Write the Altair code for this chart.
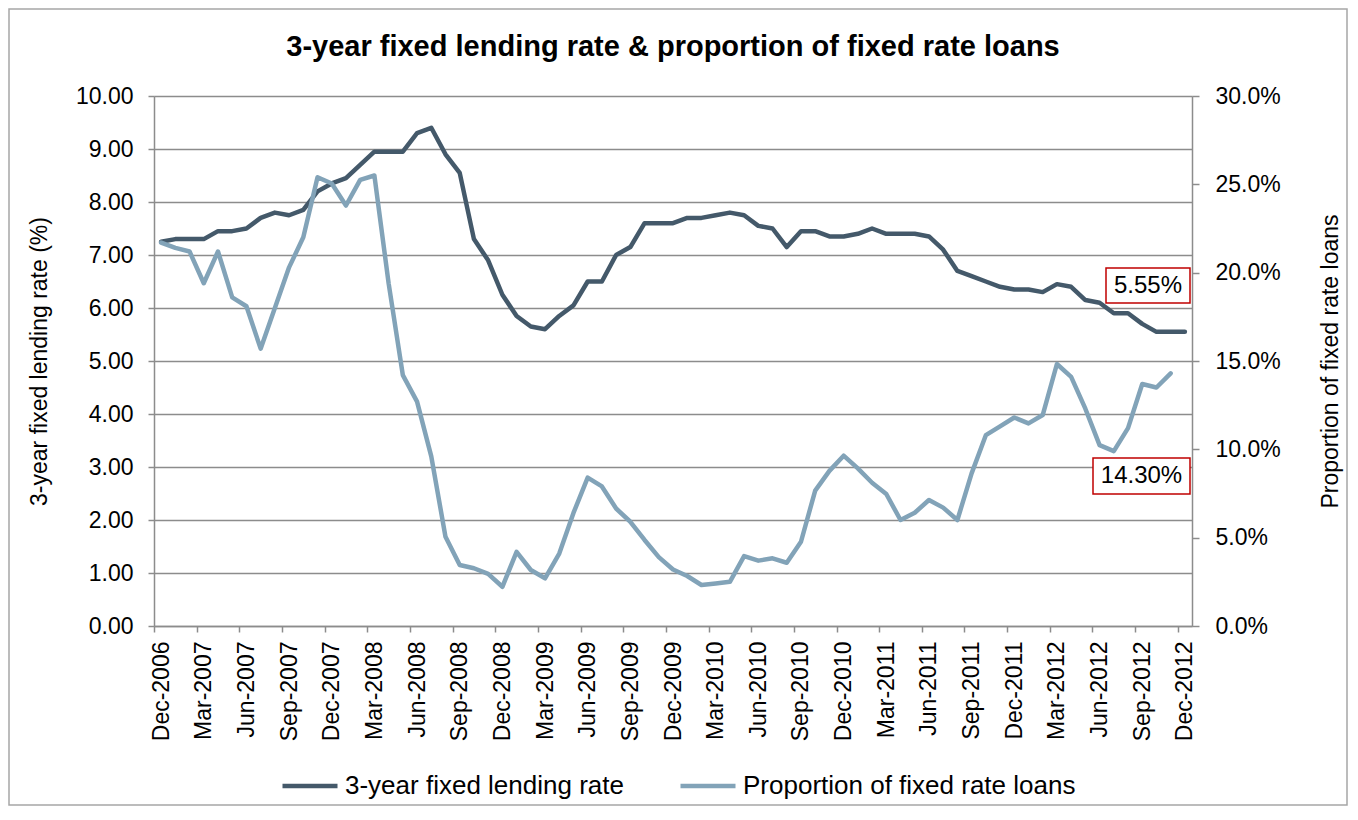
import altair as alt
import pandas as pd

# ---------------- data ----------------
month_names = ["Jan", "Feb", "Mar", "Apr", "May", "Jun",
               "Jul", "Aug", "Sep", "Oct", "Nov", "Dec"]
months = []
_y, _m = 2006, 11
for _ in range(73):
    months.append(f"{month_names[_m]}-{_y}")
    _m += 1
    if _m == 12:
        _m, _y = 0, _y + 1

tick_labels = months[::3]

fixed_rate = [
    7.25, 7.30, 7.30, 7.30, 7.45, 7.45, 7.50, 7.70, 7.80, 7.75,
    7.85, 8.20, 8.35, 8.45, 8.70, 8.95, 8.95, 8.95, 9.30, 9.40,
    8.90, 8.55, 7.30, 6.90, 6.25, 5.85, 5.65, 5.60, 5.85, 6.05,
    6.50, 6.50, 7.00, 7.15, 7.60, 7.60, 7.60, 7.70, 7.70, 7.75,
    7.80, 7.75, 7.55, 7.50, 7.15, 7.45, 7.45, 7.35, 7.35, 7.40,
    7.50, 7.40, 7.40, 7.40, 7.35, 7.10, 6.70, 6.60, 6.50, 6.40,
    6.35, 6.35, 6.30, 6.45, 6.40, 6.15, 6.10, 5.90, 5.90, 5.70,
    5.55, 5.55, 5.55,
]

fixed_share = [
    21.7, 21.4, 21.2, 19.4, 21.2, 18.6, 18.1, 15.7, 18.0, 20.3,
    22.0, 25.4, 25.05, 23.8, 25.25, 25.5, 19.4, 14.2, 12.7, 9.6,
    5.05, 3.45, 3.27, 2.95, 2.22, 4.2, 3.17, 2.7, 4.1, 6.4,
    8.4, 7.9, 6.65, 5.9, 4.87, 3.9, 3.2, 2.83, 2.32, 2.41,
    2.5, 3.96, 3.7, 3.83, 3.58, 4.77, 7.66, 8.78, 9.64, 8.92,
    8.11, 7.47, 6.0, 6.41, 7.13, 6.7, 6.0, 8.64, 10.8, 11.3,
    11.8, 11.47, 11.94, 14.83, 14.1, 12.3, 10.24, 9.9, 11.2, 13.7,
    13.5, 14.3,
]

series_names = ["3-year fixed lending rate", "Proportion of fixed rate loans"]
series_colors = ["#44596a", "#82a3b8"]
chart_title = "3-year fixed lending rate & proportion of fixed rate loans"
left_title = "3-year fixed lending rate (%)"
right_title = "Proportion of fixed rate loans"
annotations = ["5.55%", "14.30%"]

rate_df = pd.DataFrame({"month": months, "value": fixed_rate})
share_df = pd.DataFrame({"month": months[:len(fixed_share)], "value": fixed_share})

# ---------------- layout ----------------
FONT = "Liberation Sans"
W, H = 1038, 530
GRID = "#8c8c8c"
step = W / len(months)

x_enc = alt.X(
    "month:O",
    scale=alt.Scale(domain=months, type="point", padding=0.5),
    axis=alt.Axis(
        values=tick_labels, labelAngle=-90, labelFontSize=23, labelFont=FONT,
        labelColor="black", labelPadding=9, tickSize=6, tickColor=GRID,
        tickWidth=1.5, domainColor=GRID, domainWidth=1.5, grid=False,
        tickOffset=-step / 2, labelOffset=step / 2, labelOverlap=False,
        title=None,
    ),
)

color_scale = alt.Scale(domain=series_names, range=series_colors)
legend = alt.Legend(
    orient="none", legendX=126, legendY=660, direction="horizontal",
    symbolType="stroke", symbolSize=3025, symbolStrokeWidth=4.5,
    labelFontSize=26, labelFont=FONT, labelColor="black", labelLimit=600,
    labelOffset=5, columnPadding=47, padding=0, title=None,
)

rate_line = alt.Chart(rate_df).transform_calculate(
    series=f"'{series_names[0]}'"
).mark_line(strokeWidth=4.5, strokeCap="round", strokeJoin="round").encode(
    x=x_enc,
    y=alt.Y(
        "value:Q",
        scale=alt.Scale(domain=[0, 10], nice=False),
        axis=alt.Axis(
            orient="left", values=list(range(11)), format=".2f",
            labelFontSize=23, labelFont=FONT, labelColor="black",
            labelPadding=15, tickSize=6, tickColor=GRID, tickWidth=1.5,
            domainColor=GRID, domainWidth=1.5, grid=True, gridColor=GRID,
            gridWidth=1.5, title=left_title, titleFont=FONT, titleFontSize=23,
            titleFontWeight="normal", titleColor="black", titleAngle=-90,
            titleX=-115, titleY=H / 2, titleAlign="center",
            titleBaseline="middle",
        ),
    ),
    color=alt.Color("series:N", scale=color_scale, legend=legend),
)

share_line = alt.Chart(share_df).transform_calculate(
    series=f"'{series_names[1]}'"
).mark_line(strokeWidth=4.5, strokeCap="round", strokeJoin="round").encode(
    x=x_enc,
    y=alt.Y(
        "value:Q",
        scale=alt.Scale(domain=[0, 30], nice=False),
        axis=alt.Axis(
            orient="right", values=[0, 5, 10, 15, 20, 25, 30],
            labelExpr="format(datum.value, '.1f') + '%'",
            labelFontSize=23, labelFont=FONT, labelColor="black",
            labelPadding=16, tickSize=7, tickColor=GRID, tickWidth=1.5,
            domainColor=GRID, domainWidth=1.5, grid=False,
            title=right_title, titleFont=FONT, titleFontSize=23,
            titleFontWeight="normal", titleColor="black", titleAngle=-90,
            titleX=138, titleY=H / 2, titleAlign="center",
            titleBaseline="middle",
        ),
    ),
    color=alt.Color("series:N", scale=color_scale, legend=legend),
)

one = pd.DataFrame({"t": [0]})

frame = alt.Chart(one).mark_rect(
    fill="transparent", stroke="#a6a6a6", strokeWidth=1.5
).encode(
    x=alt.value(-145), x2=alt.value(W + 155),
    y=alt.value(-87), y2=alt.value(H + 179),
)

title_text = alt.Chart(pd.DataFrame({"t": [chart_title]})).mark_text(
    font=FONT, fontSize=29, fontWeight="bold", color="black",
    align="center", baseline="alphabetic",
).encode(text="t:N", x=alt.value(W / 2), y=alt.value(-40))

box1 = alt.Chart(one).mark_rect(
    fill="white", stroke="#c00000", strokeWidth=1.5
).encode(x=alt.value(952), x2=alt.value(1036), y=alt.value(172), y2=alt.value(207))
txt1 = alt.Chart(pd.DataFrame({"t": [annotations[0]]})).mark_text(
    font=FONT, fontSize=24, color="black", align="center", baseline="middle"
).encode(text="t:N", x=alt.value(994), y=alt.value(190))

box2 = alt.Chart(one).mark_rect(
    fill="white", stroke="#c00000", strokeWidth=1.5
).encode(x=alt.value(939), x2=alt.value(1036), y=alt.value(362), y2=alt.value(398))
txt2 = alt.Chart(pd.DataFrame({"t": [annotations[1]]})).mark_text(
    font=FONT, fontSize=24, color="black", align="center", baseline="middle"
).encode(text="t:N", x=alt.value(987.5), y=alt.value(380))

chart = alt.layer(
    frame, rate_line, share_line, box1, txt1, box2, txt2, title_text
).resolve_scale(y="independent").properties(
    width=W, height=H,
    autosize=alt.AutoSizeParams(type="none"),
    padding={"left": 146, "top": 88, "right": 156, "bottom": 180},
).configure_view(strokeWidth=0).configure(background="white")

chart.save("out.html", embed_options={"renderer": "svg", "actions": False})
